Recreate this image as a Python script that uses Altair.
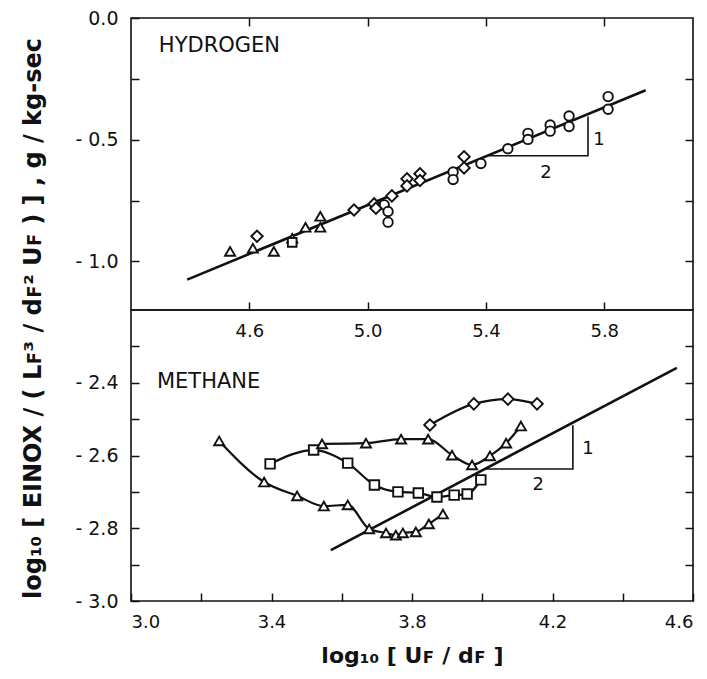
import altair as alt
import pandas as pd

INK = "#111111"
FONT = "DejaVu Sans"

# ---------------- HYDROGEN panel data ----------------
h2_tri_x = [4.535, 4.612, 4.683, 4.745, 4.790, 4.840, 4.840]
h2_tri_y = [-0.959, -0.946, -0.959, -0.905, -0.860, -0.815, -0.860]
h2_sq_x = [4.745]
h2_sq_y = [-0.922]
h2_dia_x = [4.626, 4.954, 5.022, 5.028, 5.082, 5.133, 5.133, 5.177, 5.177, 5.326, 5.326]
h2_dia_y = [-0.897, -0.789, -0.764, -0.782, -0.731, -0.661, -0.690, -0.640, -0.668, -0.570, -0.616]
h2_circ_x = [5.056, 5.069, 5.069, 5.289, 5.289, 5.383, 5.474, 5.542, 5.542,
             5.617, 5.617, 5.681, 5.681, 5.813, 5.813]
h2_circ_y = [-0.768, -0.795, -0.839, -0.633, -0.664, -0.598, -0.537, -0.474, -0.499,
             -0.440, -0.465, -0.403, -0.446, -0.323, -0.375]
h2_fit_x = [4.39, 5.94]
h2_fit_y = [-1.075, -0.297]
h2_slope_x = [5.41, 5.745, 5.745]
h2_slope_y = [-0.566, -0.566, -0.405]
h2_note_x = [5.782, 5.603]
h2_note_y = [-0.50, -0.636]
h2_note_t = ["1", "2"]
h2_name_x = [4.499]
h2_name_y = [-0.115]
h2_name_t = ["HYDROGEN"]

# ---------------- METHANE panel data ----------------
ch4_triA_x = [3.251, 3.379, 3.473, 3.549, 3.617, 3.678, 3.726, 3.754, 3.774, 3.811, 3.848, 3.888]
ch4_triA_y = [-2.560, -2.673, -2.711, -2.739, -2.736, -2.802, -2.813, -2.819, -2.813, -2.810, -2.788, -2.761]
ch4_sq_x = [3.396, 3.520, 3.617, 3.693, 3.760, 3.818, 3.871, 3.920, 3.957, 3.996]
ch4_sq_y = [-2.623, -2.585, -2.621, -2.681, -2.700, -2.703, -2.714, -2.709, -2.706, -2.667]
ch4_triB_x = [3.544, 3.669, 3.769, 3.846, 3.914, 3.971, 4.022, 4.068, 4.110]
ch4_triB_y = [-2.568, -2.566, -2.555, -2.555, -2.599, -2.626, -2.601, -2.566, -2.519]
ch4_dia_x = [3.851, 3.976, 4.073, 4.156]
ch4_dia_y = [-2.516, -2.458, -2.445, -2.458]
ch4_fit_x = [3.569, 4.554]
ch4_fit_y = [-2.860, -2.359]
ch4_slope_x = [4.007, 4.258, 4.258]
ch4_slope_y = [-2.637, -2.637, -2.517]
ch4_note_x = [4.301, 4.159]
ch4_note_y = [-2.582, -2.681]
ch4_note_t = ["1", "2"]
ch4_name_x = [3.221]
ch4_name_y = [-2.398]
ch4_name_t = ["METHANE"]

# axis tick values
h2_xticks = [4.6, 5.0, 5.4, 5.8]
h2_yticks = [0.0, -0.25, -0.5, -0.75, -1.0]
ch4_xticks = [3.0, 3.2, 3.4, 3.6, 3.8, 4.0, 4.2, 4.4, 4.6]
ch4_yticks = [-3.0, -2.9, -2.8, -2.7, -2.6, -2.5, -2.4, -2.3]

Y_TITLE = "log\u2081\u2080  [ EINOX / ( L\ua730\u00b3 / d\ua730\u00b2 U\ua730 ) ] ,       g / kg-sec"
X_TITLE = "log\u2081\u2080 [ U\ua730 / d\ua730 ]"

W = 562
H_TOP = 292
H_BOT = 291

TICK = dict(ticks=True, tickSize=8, offset=-8, domain=False, grid=False, tickColor=INK,
            tickWidth=1.5, tickOpacity=1, labelFont=FONT, labelColor=INK)


def df(xs, ys):
    return pd.DataFrame({"x": xs, "y": ys})


def panel(xscale, yscale, point_sets, curve_sets, fit, slope, notes, names, axes_main, axes_other, h):
    layers = []
    layers.append(
        alt.Chart(df(*fit)).mark_point(opacity=0).encode(
            x=alt.X("x:Q", scale=xscale, axis=axes_main[0]),
            y=alt.Y("y:Q", scale=yscale, axis=axes_main[1]),
        )
    )
    layers.append(
        alt.Chart(df(*fit)).mark_point(opacity=0).encode(
            x=alt.X("x:Q", scale=xscale, axis=axes_other[0]),
            y=alt.Y("y:Q", scale=yscale, axis=axes_other[1]),
        )
    )
    for xs, ys in curve_sets:
        layers.append(
            alt.Chart(df(xs, ys)).mark_line(interpolate="monotone", color=INK, strokeWidth=2.2).encode(
                x=alt.X("x:Q", scale=xscale, axis=None),
                y=alt.Y("y:Q", scale=yscale, axis=None),
            )
        )
    layers.append(
        alt.Chart(df(*fit)).mark_line(color=INK, strokeWidth=2.6).encode(
            x=alt.X("x:Q", scale=xscale, axis=None),
            y=alt.Y("y:Q", scale=yscale, axis=None),
        )
    )
    sdf = df(*slope)
    sdf["o"] = range(len(sdf))
    layers.append(
        alt.Chart(sdf).mark_line(color=INK, strokeWidth=1.6).encode(
            x=alt.X("x:Q", scale=xscale, axis=None),
            y=alt.Y("y:Q", scale=yscale, axis=None),
            order="o:O",
        )
    )
    for xs, ys, shape, size in point_sets:
        layers.append(
            alt.Chart(df(xs, ys)).mark_point(shape=shape, filled=True, fill="white", size=size,
                                             stroke=INK, strokeWidth=1.9, opacity=1).encode(
                x=alt.X("x:Q", scale=xscale, axis=None),
                y=alt.Y("y:Q", scale=yscale, axis=None),
            )
        )
    ndf = pd.DataFrame({"x": notes[0], "y": notes[1], "t": notes[2]})
    layers.append(
        alt.Chart(ndf).mark_text(align="center", baseline="middle", font=FONT, fontSize=18,
                                 color=INK).encode(
            x=alt.X("x:Q", scale=xscale, axis=None),
            y=alt.Y("y:Q", scale=yscale, axis=None),
            text="t:N",
        )
    )
    mdf = pd.DataFrame({"x": names[0], "y": names[1], "t": names[2]})
    layers.append(
        alt.Chart(mdf).mark_text(align="center", baseline="middle", font=FONT, fontSize=21,
                                 color=INK).encode(
            x=alt.X("x:Q", scale=xscale, axis=None),
            y=alt.Y("y:Q", scale=yscale, axis=None),
            text="t:N",
        )
    )
    return alt.layer(*layers).properties(width=W, height=h)


# ---------- top panel ----------
xs_top = alt.Scale(domain=[4.2, 6.1], nice=False, zero=False)
ys_top = alt.Scale(domain=[-1.2, 0.0], nice=False, zero=False)

top_axes_main = (
    alt.Axis(orient="bottom", values=h2_xticks, format=".1f", labelPadding=12, labelFontSize=18,
             title=None, **TICK),
    alt.Axis(orient="left", values=h2_yticks, labelPadding=13, labelFontSize=19,
             labelExpr="datum.value == 0 ? '0.0' : (abs(datum.value*2 - round(datum.value*2)) < 0.001 ? '-  ' + format(abs(datum.value), '.1f') : '')",
             title=Y_TITLE, titleFont=FONT, titleFontSize=24, titleFontWeight="bold", titleColor=INK,
             titlePadding=23, titleY=300, **TICK),
)
top_axes_other = (
    alt.Axis(orient="top", values=h2_xticks, labels=False, title=None, **TICK),
    alt.Axis(orient="right", values=h2_yticks[1:], labels=False, title=None, **TICK),
)

top = panel(
    xs_top, ys_top,
    point_sets=[
        (h2_circ_x, h2_circ_y, "circle", 90),
        (h2_tri_x, h2_tri_y, "triangle-up", 100),
        (h2_sq_x, h2_sq_y, "square", 75),
        (h2_dia_x, h2_dia_y, "diamond", 130),
    ],
    curve_sets=[],
    fit=(h2_fit_x, h2_fit_y),
    slope=(h2_slope_x, h2_slope_y),
    notes=(h2_note_x, h2_note_y, h2_note_t),
    names=(h2_name_x, h2_name_y, h2_name_t),
    axes_main=top_axes_main,
    axes_other=top_axes_other,
    h=H_TOP,
)

# ---------- bottom panel ----------
xs_bot = alt.Scale(domain=[3.0, 4.6], nice=False, zero=False)
ys_bot = alt.Scale(domain=[-3.0, -2.2], nice=False, zero=False)

bot_axes_main = (
    alt.Axis(orient="bottom", values=ch4_xticks, labelPadding=12, labelFontSize=18,
             labelExpr="round(datum.value*10) % 4 == 2 ? format(datum.value, '.1f') : ''",
             title=X_TITLE, titleFont=FONT, titleFontSize=22, titleFontWeight="bold", titleColor=INK,
             titlePadding=14, **TICK),
    alt.Axis(orient="left", values=ch4_yticks, labelPadding=13, labelFontSize=19,
             labelExpr="round(datum.value*10) % 2 == 0 ? '-  ' + format(abs(datum.value), '.1f') : ''",
             title=None, **TICK),
)
bot_axes_other = (
    alt.Axis(orient="top", values=[4.6], labels=False, ticks=False, title=None, domain=False, grid=False),
    alt.Axis(orient="right", values=ch4_yticks[1:], labels=False, title=None, **TICK),
)

bottom = panel(
    xs_bot, ys_bot,
    point_sets=[
        (ch4_triA_x, ch4_triA_y, "triangle-up", 100),
        (ch4_sq_x, ch4_sq_y, "square", 90),
        (ch4_triB_x, ch4_triB_y, "triangle-up", 100),
        (ch4_dia_x, ch4_dia_y, "diamond", 130),
    ],
    curve_sets=[
        (ch4_triA_x, ch4_triA_y),
        (ch4_sq_x, ch4_sq_y),
        (ch4_triB_x, ch4_triB_y),
        (ch4_dia_x, ch4_dia_y),
    ],
    fit=(ch4_fit_x, ch4_fit_y),
    slope=(ch4_slope_x, ch4_slope_y),
    notes=(ch4_note_x, ch4_note_y, ch4_note_t),
    names=(ch4_name_x, ch4_name_y, ch4_name_t),
    axes_main=bot_axes_main,
    axes_other=bot_axes_other,
    h=H_BOT,
)

chart = alt.vconcat(top, bottom, spacing=0, bounds="flush").properties(
    padding={"left": 21, "top": 7, "right": 0, "bottom": 2},
    background="white",
).configure_view(stroke=INK, strokeWidth=1.6).configure_axis(ticks=True, tickColor=INK)

chart.save("out.html", embed_options={"renderer": "svg", "actions": False})
